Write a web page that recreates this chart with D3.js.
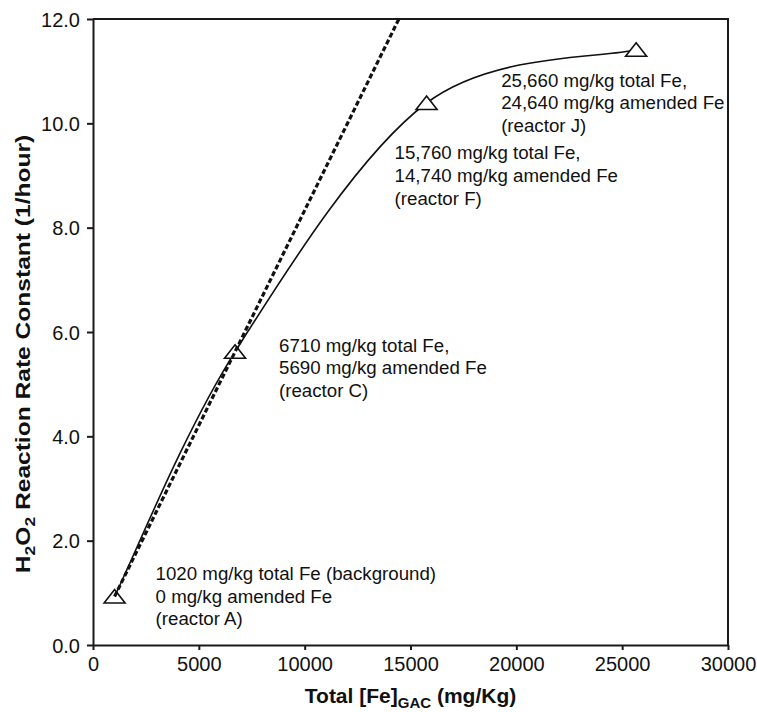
<!DOCTYPE html>
<html>
<head>
<meta charset="utf-8">
<script src="https://cdn.jsdelivr.net/npm/d3@7"></script>
<style>
  html, body { margin: 0; padding: 0; background: #fff; }
  svg { display: block; font-family: "Liberation Sans", Arial, Helvetica, sans-serif; }
</style>
</head>
<body>
<svg id="chart" width="757" height="712"></svg>
<script>
// Reactors and their measured H2O2 decomposition rate constants
const reactors = ["A", "C", "F", "J"];
const totalFe = [1020, 6710, 15760, 25660];     // mg/kg total Fe on GAC
const amendedFe = [0, 5690, 14740, 24640];      // mg/kg amended Fe
const rateK = [0.93, 5.62, 10.39, 11.41];       // 1/hour

// Annotation text, one entry per reactor
const labelLines = [
  ["1020 mg/kg total Fe (background)", "0 mg/kg amended Fe", "(reactor A)"],
  ["6710 mg/kg total Fe,", "5690 mg/kg amended Fe", "(reactor C)"],
  ["15,760 mg/kg total Fe,", "14,740 mg/kg amended Fe", "(reactor F)"],
  ["25,660 mg/kg total Fe,", "24,640 mg/kg amended Fe", "(reactor J)"]
];

// Axis ticks
const xTicks = [0, 5000, 10000, 15000, 20000, 25000, 30000];
const yTicks = [0, 2, 4, 6, 8, 10, 12];

const svg = d3.select("#chart");
const plot = { left: 93, right: 728, top: 19, bottom: 645 };

const x = d3.scaleLinear().domain([0, 30000]).range([plot.left, plot.right]);
const y = d3.scaleLinear().domain([0, 12]).range([plot.bottom, plot.top]);

const points = reactors.map((r, i) => ({ r, fe: totalFe[i], am: amendedFe[i], k: rateK[i], lines: labelLines[i] }));

// Spreadsheet-style smoothed line: Catmull-Rom Bezier segments whose end
// tangents point along the first / last chord.
function smoothCurve(context) {
  let pts = [];
  return {
    areaStart() {}, areaEnd() {},
    lineStart() { pts = []; },
    point(px, py) { pts.push([+px, +py]); },
    lineEnd() {
      const n = pts.length;
      if (!n) return;
      context.moveTo(pts[0][0], pts[0][1]);
      for (let i = 0; i < n - 1; i++) {
        const p0 = pts[Math.max(i - 1, 0)], p1 = pts[i], p2 = pts[i + 1], p3 = pts[Math.min(i + 2, n - 1)];
        context.bezierCurveTo(
          p1[0] + (p2[0] - p0[0]) / 6, p1[1] + (p2[1] - p0[1]) / 6,
          p2[0] - (p3[0] - p1[0]) / 6, p2[1] - (p3[1] - p1[1]) / 6,
          p2[0], p2[1]);
      }
    }
  };
}

// Axes
const ink = "#1a1a1a";
const xAxis = svg.append("g")
  .attr("transform", `translate(0,${plot.bottom})`)
  .call(d3.axisBottom(x).tickValues(xTicks).tickFormat(d3.format("d")).tickSize(5).tickSizeOuter(0));
const yAxis = svg.append("g")
  .attr("transform", `translate(${plot.left},0)`)
  .call(d3.axisLeft(y).tickValues(yTicks).tickFormat(d3.format(".1f")).tickSize(6).tickSizeOuter(0));

[xAxis, yAxis].forEach(g => {
  g.selectAll(".domain").attr("stroke", ink).attr("stroke-width", 2);
  g.selectAll(".tick line").attr("stroke", ink).attr("stroke-width", 2);
  g.selectAll(".tick text")
    .attr("fill", "#111")
    .style("font-size", "20px")
    .style("font-family", "\"Liberation Sans\", Arial, sans-serif");
});
xAxis.selectAll(".tick text").attr("dy", null).attr("y", 26);
yAxis.selectAll(".tick text").attr("x", -13).attr("dy", "0.36em");

// Top and right frame
svg.append("path")
  .attr("d", `M${plot.left},${plot.top}H${plot.right}V${plot.bottom}`)
  .attr("fill", "none").attr("stroke", ink).attr("stroke-width", 2);

// Smooth curve through the reactor points
const curve = d3.line()
  .x(d => x(d.fe))
  .y(d => y(d.k))
  .curve(smoothCurve);
svg.append("path")
  .datum(points)
  .attr("d", curve)
  .attr("fill", "none")
  .attr("stroke", "#111")
  .attr("stroke-width", 1.6);

// Triangle markers
const tri = "M0,-7L10.5,6.5L-10.5,6.5Z";
svg.append("g").selectAll("path")
  .data(points)
  .join("path")
  .attr("transform", d => `translate(${x(d.fe)},${y(d.k)})`)
  .attr("d", tri)
  .attr("fill", "#fff")
  .attr("stroke", "#111")
  .attr("stroke-width", 1.6);

// Linear trend through the two low-iron reactors, extended to the top of the axis
const p0 = points[0], p1 = points[1];
const slope = (p1.k - p0.k) / (p1.fe - p0.fe);
const feAtTop = p0.fe + (y.domain()[1] - p0.k) / slope;
const trend = [{ fe: p0.fe, k: p0.k }, { fe: feAtTop, k: y.domain()[1] }];
svg.append("path")
  .datum(trend)
  .attr("d", d3.line().x(d => x(d.fe)).y(d => y(d.k)))
  .attr("fill", "none")
  .attr("stroke", "#111")
  .attr("stroke-width", 3.2)
  .attr("stroke-dasharray", "5,2.6");

// Annotations placed beside each marker
const labelOffsets = [[41, -16.5], [44, 0], [-32, 56.5], [-135, 37]];
const lineGap = 22.6;
const ann = svg.append("g")
  .style("font-size", "18.7px")
  .attr("fill", "#111");
points.forEach((d, i) => {
  const t = ann.append("text")
    .attr("x", x(d.fe) + labelOffsets[i][0])
    .attr("y", y(d.k) + labelOffsets[i][1]);
  d.lines.forEach((ln, j) => {
    t.append("tspan")
      .attr("x", x(d.fe) + labelOffsets[i][0])
      .attr("dy", j === 0 ? 0 : lineGap)
      .text(ln);
  });
});

// Axis titles
const xt = svg.append("text")
  .attr("x", (plot.left + plot.right) / 2)
  .attr("y", 703)
  .attr("text-anchor", "middle")
  .style("font-size", "21px")
  .style("font-weight", "bold")
  .attr("fill", "#111");
xt.append("tspan").text("Total [Fe]");
xt.append("tspan").attr("dy", 5).style("font-size", "15px").text("GAC");
xt.append("tspan").attr("dy", -5).text(" (mg/Kg)");

const yt = svg.append("text")
  .attr("transform", `translate(30,354) rotate(-90) scale(1.17,1)`)
  .attr("text-anchor", "middle")
  .style("font-size", "21px")
  .style("font-weight", "bold")
  .attr("fill", "#111");
yt.append("tspan").text("H");
yt.append("tspan").attr("dy", 5).style("font-size", "15px").text("2");
yt.append("tspan").attr("dy", -5).text("O");
yt.append("tspan").attr("dy", 5).style("font-size", "15px").text("2");
yt.append("tspan").attr("dy", -5).text(" Reaction Rate Constant (1/hour)");
</script>
</body>
</html>
